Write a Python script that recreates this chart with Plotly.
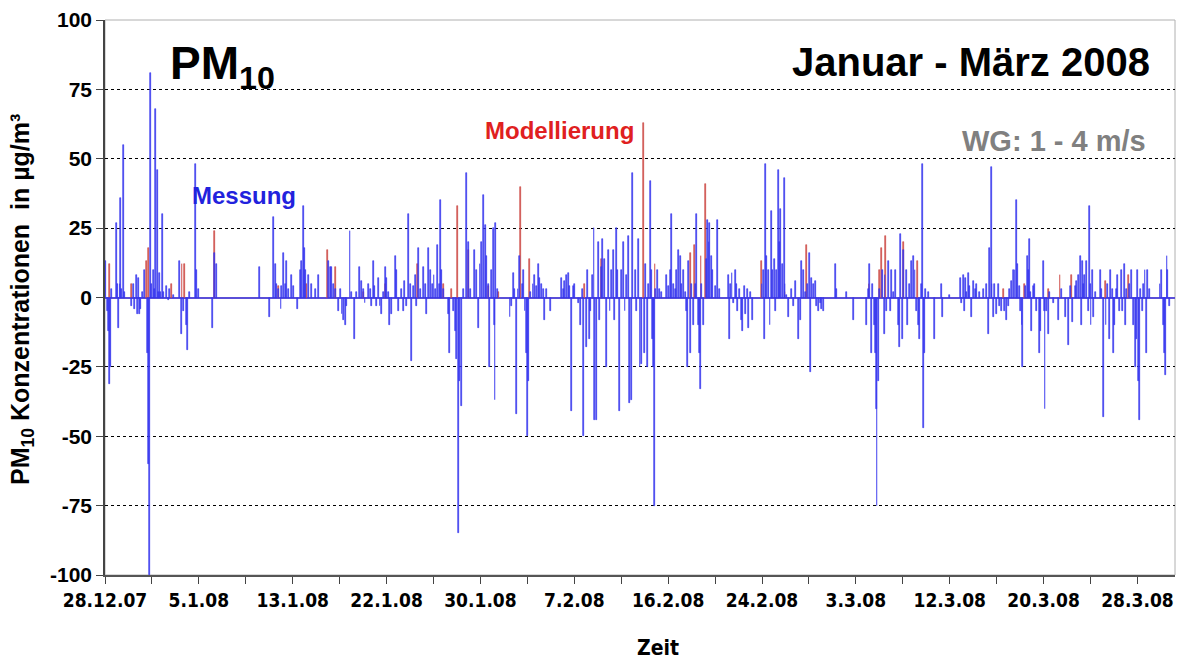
import plotly.graph_objects as go

# ---- data (hours after 28.12.2007 00:00, PM10 differences in µg/m³) ----
tick_labels = ["28.12.07", "5.1.08", "13.1.08", "22.1.08", "30.1.08", "7.2.08",
               "16.2.08", "24.2.08", "3.3.08", "12.3.08", "20.3.08", "28.3.08"]
tick_label_hours = [0, 200, 400, 600, 800, 1000, 1200, 1400, 1600, 1800, 2000, 2200]
total_hours = 2280

mess_hours = [
    2, 5, 7, 10, 12, 14, 24, 27, 29, 32, 34, 36, 39, 41, 56, 60, 63, 67, 69, 72, 74, 76, 80, 85, 90, 92, 94, 96, 99,
    103, 106, 108, 111, 114, 116, 119, 122, 125, 131, 135, 138, 145, 159, 162, 167, 174, 176, 180, 192, 194, 199, 230,
    234, 238, 329, 350, 359, 363, 366, 370, 375, 377, 380, 384, 387, 391, 398, 402, 410, 416, 419, 423, 425, 428, 434,
    441, 448, 455, 476, 480, 483, 487, 492, 497, 501, 505, 508, 512, 515, 522, 526, 531,
    536, 543, 547, 550, 554, 561, 565, 568, 572, 575, 579, 582, 586, 589, 593, 597, 600, 604, 607, 611, 618, 621, 625,
    632, 636, 639, 643, 647, 650, 654, 657, 661, 664, 669, 673, 678, 682, 685, 690, 694, 697, 701, 705, 708, 712, 715,
    718, 721, 731, 735, 742, 746, 749, 753, 756, 760, 763, 771, 774, 778, 788, 792, 795, 799, 803, 806, 810, 813, 817,
    820, 824, 827,
    829, 831, 833, 836, 863, 866, 870, 873, 877, 880, 884, 889, 891, 895, 898, 900, 903, 907, 912, 916, 919, 923, 926,
    930, 934, 937, 941, 950, 973, 976, 980, 983, 987, 990, 995, 998, 1001, 1008, 1013, 1017, 1020, 1026, 1029, 1032,
    1035, 1038, 1042, 1044, 1047, 1051, 1054, 1058, 1061, 1065, 1069, 1072, 1076, 1079, 1083, 1086, 1090, 1093, 1097,
    1100, 1104, 1108, 1111, 1115, 1118, 1122, 1125,
    1130, 1133, 1137, 1140, 1144, 1149, 1151, 1155, 1158, 1162, 1164, 1167, 1169, 1170, 1174, 1177, 1181, 1186, 1197,
    1201, 1204, 1208, 1211, 1215, 1218, 1222, 1226, 1229, 1233, 1236, 1240, 1242, 1244, 1247, 1250, 1254, 1258, 1261,
    1264, 1266, 1268, 1272, 1275, 1281, 1284, 1287, 1289, 1292, 1295, 1300, 1306, 1309, 1329, 1331, 1333, 1336, 1339,
    1343, 1346, 1348, 1352, 1356, 1359, 1362, 1365, 1369, 1372, 1376, 1380, 1400, 1403, 1405, 1407, 1410, 1414, 1417,
    1421, 1423, 1426, 1428, 1431, 1435, 1437, 1440, 1443, 1447, 1449, 1453, 1456, 1463, 1467, 1472, 1477, 1481, 1484,
    1488, 1492, 1497, 1501, 1504, 1506, 1509, 1513, 1516, 1520, 1524, 1527, 1531, 1556, 1559, 1580, 1595, 1623, 1627,
    1630, 1634, 1636, 1639, 1641, 1643, 1645, 1648, 1651, 1657, 1660, 1662, 1666, 1669, 1673, 1676, 1680, 1685, 1690,
    1693, 1695, 1700, 1702, 1707, 1710, 1714, 1719, 1722,
    1726, 1729, 1733, 1736, 1740, 1742, 1744, 1746, 1749, 1754, 1768, 1782, 1784, 1800, 1822, 1825, 1829, 1831, 1833,
    1836, 1840, 1843, 1847, 1850, 1854, 1857, 1864, 1871, 1878, 1882, 1884, 1888, 1890, 1893, 1896, 1900, 1903, 1907,
    1910, 1916, 1921, 1925, 1928, 1932, 1935, 1939, 1942, 1944, 1948, 1951, 1954, 1956, 1962, 1965, 1967, 1969, 1972,
    1974, 1978, 1981, 1985, 1991, 1994, 1999, 2001, 2003, 2006, 2010, 2013,
    2021, 2032, 2039, 2046, 2053, 2057, 2062, 2067, 2071, 2074, 2078, 2080, 2083, 2085, 2088, 2092, 2096, 2097, 2099,
    2101, 2104, 2106, 2110, 2121, 2124, 2128, 2133, 2136, 2140, 2143, 2147, 2149, 2152, 2155, 2158, 2162, 2165, 2169,
    2172, 2174, 2177, 2184, 2188, 2191, 2195, 2197, 2200, 2202, 2204, 2206, 2210, 2213, 2216, 2220, 2222, 2226, 2248,
    2252, 2255, 2258, 2260, 2263, 2265, 2268,
]
mess_values = [
    13, -5, -12, -31, -25, 3, 27, 5, -11, 5, 36, 3, 55, 2, -3, 5, -4, 8, -6, 7, -6, -4, 2, 10, -20, -60, -100, 81, 5,
    10, 3, 68, 46, 2, 9, 2, 30, 2, 4, -1, 3, 1, 13, -13, -5, -10, -19, 2, 48, 10, 3, -11,
    16, 12, 11, -7, 29, 12, 5, 3, -4, 4, 16, 5, 13, 3, 8, 4, -4, 10, 13, 33, 18, 10, 8,
    5, 3, 8, 13, 11, 11, 5, 3, -5, 3, -6, -8, -10, -3, 24, 2, -15,
    2, 11, 6, 3, -2, 5, 3, -3, 13, 4, -3, 7, -3, -6, 2, 11, 7, 2, -10, -6, 15, 10, -5,
    3, -5, 6, -3, 30, 5, -23, 4, 8, -3, 18, 3, 11, 5, -6, 18, 10, 5, 8, 3, 19, 5, 35,
    10, 3, -6, -20, -5, -12, -22, -85, -30, -39, 3, 45, 20, 3, 17, 10, -11, 12, 20, 37, 26, 15, 5,
    -25, 10, 25,
    -10, -37, 27, 3, -7, -3, 9, 3, -42, 3, 15, 5, 10, -5, -20, -50, -30, 2, 5, 8, 4, 12, 7,
    5, 3, -8, 3, -5, 7, 3, 6, 8, 9, 4, -41, 4, 5, -2, -10, 3, -50, -18, 10, -15,
    -5, 8, 25, -44, -44, 20, -8, 11, 21, 14, -25, 17, -5, 10, 17, -8, 25, 10, -41,
    10, 20, -5, 8, 22, -38, -37, 45,
    10, -5, 21, -25, -24, -20, 12, -25, 5, 42, 10, -15, -25, -75, 3, 10, 3, 2, 8,
    4, 10, 30, 5, 3, 10, 17, 15, 5, 10, 2, -5, -25, 13, -20, 5, -10, 5, 30,
    -10, -20, -33, 5, -10, 14, 28, 20, 27, 15, 10, 4, 28, 3, 8, -15, 5, 9, -2,
    10, 5, -5, 3, -8, -12, 4, -6, 3, -11, 2, -8, 5, 10, -15, 48, 15, 10, -10,
    31, 10, 14, -5, 10, 46, 20, 32, 12, 43, 5, 1, -7, 3, -3, 6, -15, -8, 13,
    10, 2, 5, 16, -27, 7, 5, 6, -3, -5, -2, -4, -5, 12, 3, 2, -8, -10, 3,
    12, -20, 5, -10, -20, -40, -75, -30, 3, 10, -13, 8, -5, 13, -5, 10, 2, 10, -10,
    -18, 23, -15, 17, 10, -10, 5, 13, 15,
    10, -5, -10, -15, 5, 48, -47, -20, 3, 2, -15, 5, -7, 1, 7, -2, 8, -5, 7,
    2, 9, 4, -7, 6, 3, 5, 2, 3, 5, -13, 18, 47, 5, -7, 5, -6, 5, -3,
    -5, -5, -8, -3, 3, 6, 10, 10, 35, 12, 4, -5, -10, -25, 4, 15, 10, 21, 2,
    -12, 4, 5, -5, -20, -12, 13, -5, -40, -5, -13, 2,
    -2, -8, 3, -7, -17, 4, -9, 4, 6, 8, 15, -10, 13, 5, 8, 13, -5, 33, 5,
    -10, 10, -7, 2, 10, 3, -43, -10, 5, -15, 10, 3, -20, -10, 3, 8, -5, 10, -5,
    12, -10, 3, 5, 10, -10, -25, -15, 10, -30, -44, 3, -5, 5, 10, -20, 10, 3, 5,
    10, -10, -20, -28, 15, 10, -3,
]

mod_hours = [9, 57, 88, 92, 142, 164, 169, 234, 370, 429, 475, 491, 550, 597, 666, 721, 739, 751, 774, 817,
             838, 886, 905, 1022, 1058, 1147, 1172, 1247, 1256, 1270, 1279, 1398, 1449, 1495, 1628, 1650,
             1655, 1664, 1702, 1731, 1914, 1960, 2010, 2035, 2060, 2131, 2181]
mod_values = [12, 5, 13, 18, 5, 12, 12, 24, 4, 5, 17, 11, 2, 5, 12, 5, 3, 33, 17, 4,
              2, 40, 14, 5, 14, 63, 12, 16, 19, 15, 41, 13, 2, 19, 5, 10,
              18, 22, 20, 13, 3, 5, 3, 8, 8, 6, 8]

y_ticks = [100, 75, 50, 25, 0, -25, -50, -75, -100]
y_tick_text = ["100", "75", "50", "25", "0", "-25", "-50", "-75", "-100"]

BLUE = "#3535ee"
RED = "#cc4a44"
FONT = "Liberation Sans, Arial, sans-serif"
NARROW = "Liberation Sans Narrow, Arial Narrow, DejaVu Sans Condensed, Liberation Sans, sans-serif"

fig = go.Figure()
fig.add_trace(go.Bar(x=mod_hours, y=mod_values, width=2.0, name="Modellierung",
                     marker=dict(color=RED, line=dict(color=RED, width=0.6))))
fig.add_trace(go.Bar(x=mess_hours, y=mess_values, width=2.0, name="Messung",
                     marker=dict(color=BLUE, line=dict(color=BLUE, width=0.6))))

tickvals = list(range(0, total_hours + 1, 100))
ticktext = []
for h in tickvals:
    ticktext.append(tick_labels[tick_label_hours.index(h)] if h in tick_label_hours else "")

fig.update_layout(
    width=1185, height=659,
    margin=dict(l=105, r=10, t=20, b=84),
    paper_bgcolor="white", plot_bgcolor="white",
    showlegend=False, barmode="overlay", bargap=0,
    font=dict(family=FONT, color="black"),
    xaxis=dict(range=[0, total_hours], tickmode="array", tickvals=tickvals, ticktext=ticktext,
               ticks="outside", ticklen=7, tickcolor="#444", tickwidth=1, automargin=False,
               showline=True, linecolor="#555", linewidth=2, showgrid=False, zeroline=False,
               tickfont=dict(family=NARROW, size=19, color="black", weight="bold"), tickangle=0),
    yaxis=dict(range=[-100, 100], tickmode="array", tickvals=y_ticks, ticktext=y_tick_text,
               ticks="outside", ticklen=7, tickcolor="#444", tickwidth=1, automargin=False,
               showline=True, linecolor="#444", linewidth=1.5,
               showgrid=True, gridcolor="black", griddash="dot", gridwidth=1,
               zeroline=True, zerolinecolor="#5a4fd8", zerolinewidth=1.5,
               tickfont=dict(family=FONT, size=21, color="black", weight="bold")),
)

fig.add_shape(type="rect", xref="paper", yref="paper", x0=0, x1=1, y0=0, y1=1,
              line=dict(color="#b0b0b0", width=1), layer="below")

def ann(text, x, y, size, color="black", xanchor="left", yanchor="middle", angle=0, family=FONT):
    fig.add_annotation(text=text, xref="paper", yref="paper", x=x, y=y, showarrow=False,
                       xanchor=xanchor, yanchor=yanchor, textangle=angle,
                       font=dict(family=family, size=size, color=color, weight="bold"))

ann("PM<sub>10</sub>", (168 - 105) / 1070, (575 - 66) / 555, 46)
ann("Januar - März 2008", (1152 - 105) / 1070, (575 - 62) / 555, 40, xanchor="right")
ann("WG: 1 - 4 m/s", (1148 - 105) / 1070, (575 - 141) / 555, 29, color="#808080", xanchor="right")
ann("Messung", (190 - 105) / 1070, (575 - 195) / 555, 24, color="#2222dd")
ann("Modellierung", (483 - 105) / 1070, (575 - 131) / 555, 24, color="#e02020")
ann("PM<sub>10</sub> Konzentrationen  in µg/m³", (22 - 105) / 1070, (575 - 300) / 555, 25,
    xanchor="center", angle=-90)
ann("Zeit", (658 - 105) / 1070, (575 - 648) / 555, 21, xanchor="center", family=NARROW)

fig.write_html("out.html", config={"displayModeBar": False},
               post_script="document.body.style.margin='0';document.body.style.overflow='hidden';")
